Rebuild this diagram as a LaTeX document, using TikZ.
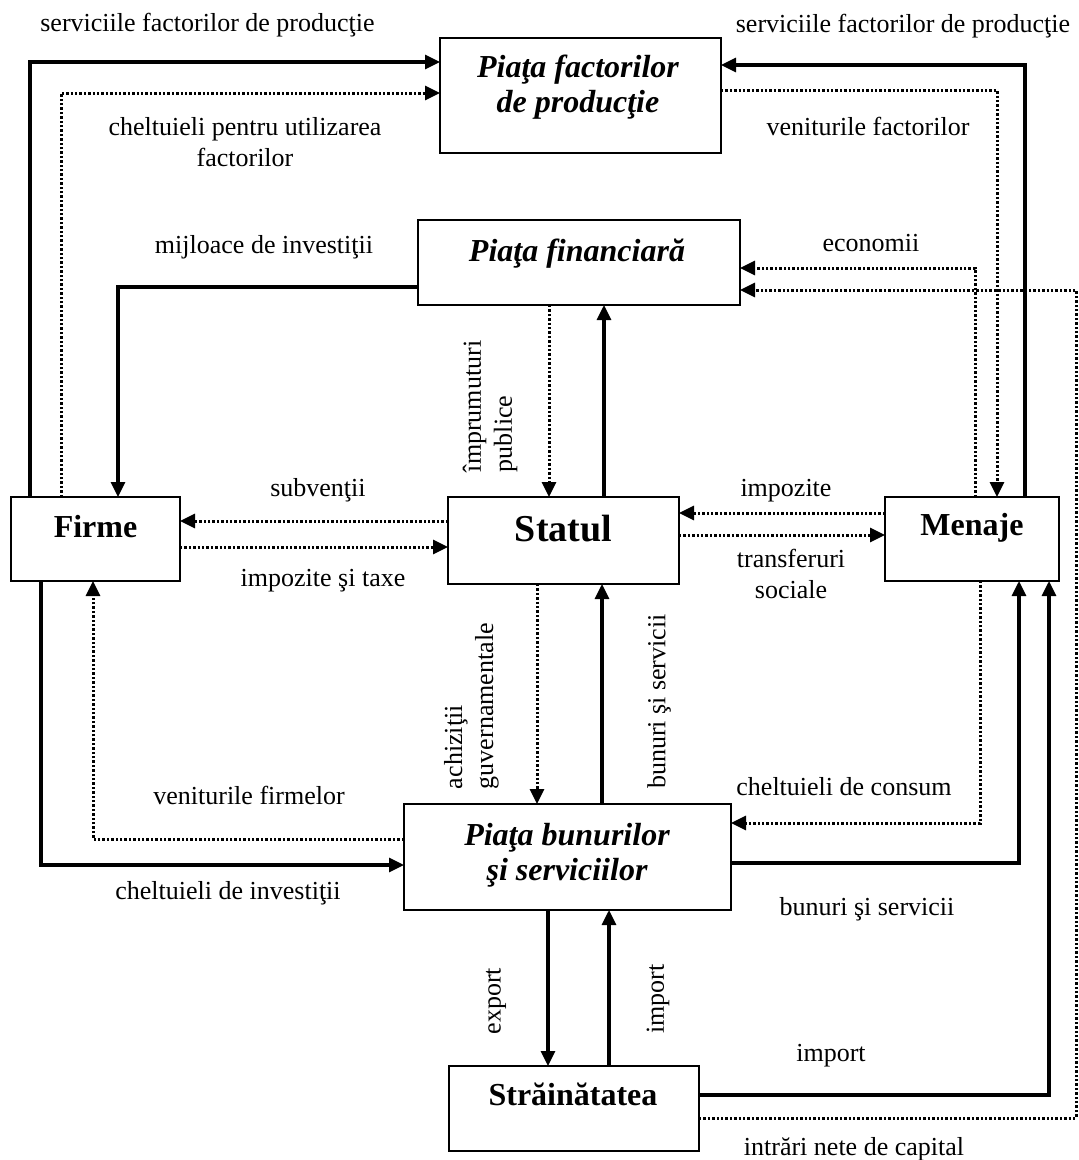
\documentclass[tikz,border=0pt]{standalone}
\usepackage{fontspec}
\setmainfont{Liberation Serif}
\usetikzlibrary{arrows.meta}
\begin{document}
\begin{tikzpicture}[x=1pt,y=-1pt,
  box/.style={draw, line width=2.4pt, rectangle, inner sep=0pt, outer sep=0pt, anchor=north west},
  boxtxt/.style={font=\fontsize{32}{35}\selectfont\bfseries, inner sep=0pt, align=center},
  boxit/.style={font=\fontsize{32}{35}\selectfont\bfseries\itshape, inner sep=0pt, align=center},
  lbl/.style={font=\fontsize{26}{31}\selectfont, inner sep=0pt, align=center},
  flow/.style={line width=3.2pt, -{Triangle[length=15pt,width=14pt]}},
  dflow/.style={line width=3pt, dash pattern=on 2.4pt off 2pt, -{Triangle[length=15pt,width=14pt]}},
  ]
\useasboundingbox (0,0) rectangle (1079,1160);

% markets and sectors
\node[box, minimum width=281pt, minimum height=115pt] (fact)  at (440,38)  {};
\node[box, minimum width=322pt, minimum height=85pt]  (fin)   at (418,220) {};
\node[box, minimum width=169pt, minimum height=84pt]  (firme) at (11,497)  {};
\node[box, minimum width=231pt, minimum height=87pt]  (stat)  at (448,497) {};
\node[box, minimum width=174pt, minimum height=84pt]  (men)   at (885,497) {};
\node[box, minimum width=327pt, minimum height=106pt] (bun)   at (404,804) {};
\node[box, minimum width=250pt, minimum height=85pt]  (str)   at (449,1066) {};

\node[boxit] (fact-t) at (578,87) {Piaţa factorilor\\de producţie};
\node[boxit, anchor=base] (fin-t) at (577,261.7) {Piaţa financiară};
\node[boxtxt, anchor=base] (firme-t) at (95.5,537) {Firme};
\node[boxtxt, anchor=base, font=\fontsize{38}{42}\selectfont\bfseries] (stat-t) at (563.5,541.7) {Statul};
\node[boxtxt, anchor=base] (men-t) at (972,535) {Menaje};
\node[boxit] (bun-t) at (567,855) {Piaţa bunurilor\\şi serviciilor};
\node[boxtxt, anchor=base] (str-t) at (573,1105.7) {Străinătatea};

% flow labels
\node[lbl, anchor=base] (l-sfp1) at (207.5,31) {serviciile factorilor de producţie};
\node[lbl, anchor=base] (l-sfp2) at (903,32) {serviciile factorilor de producţie};
\node[lbl] (l-chf) at (245,141.7) {cheltuieli pentru utilizarea\\factorilor};
\node[lbl, anchor=base] (l-vf) at (868,135) {veniturile factorilor};
\node[lbl, anchor=base] (l-mi) at (264,253) {mijloace de investiţii};
\node[lbl, anchor=base] (l-ec) at (871,251.7) {economii};
\node[lbl, rotate=90, align=left] (l-ip) at (490,406.5) {împrumuturi\\publice};
\node[lbl, anchor=base] (l-sub) at (318,496.7) {subvenţii};
\node[lbl, anchor=base] (l-ist) at (323,586.7) {impozite şi taxe};
\node[lbl, anchor=base] (l-imp) at (786,496.7) {impozite};
\node[lbl] (l-ts) at (791,574) {transferuri\\sociale};
\node[lbl, rotate=90, align=left] (l-ag) at (471.5,706) {achiziţii\\guvernamentale};
\node[lbl, rotate=90] (l-bs1) at (659,701.5) {bunuri şi servicii};
\node[lbl, anchor=base] (l-vfi) at (249,804) {veniturile firmelor};
\node[lbl, anchor=base] (l-ci) at (228,899.3) {cheltuieli de investiţii};
\node[lbl, anchor=base] (l-cc) at (844,795) {cheltuieli de consum};
\node[lbl, anchor=base] (l-bs2) at (867,915) {bunuri şi servicii};
\node[lbl, rotate=90] (l-exp) at (496,1001) {export};
\node[lbl, rotate=90] (l-imp1) at (658,999) {import};
\node[lbl, anchor=base] (l-imp2) at (831,1061.7) {import};
\node[lbl, anchor=base] (l-int) at (854,1155) {intrări nete de capital};

% factor market
\draw[flow]  ([xshift=19pt]firme.north west) |- ([yshift=-24pt]fact.north west);
\draw[dflow] ([xshift=50pt]firme.north west) |- ([yshift=-55pt]fact.north west);
\draw[flow]  ([xshift=140pt]men.north west) |- ([yshift=-27pt]fact.north east);
\draw[dflow] ([yshift=-52pt]fact.north east) -| ([xshift=112pt]men.north west);

% financial market
\draw[flow]  ([yshift=18pt]fin.south west) -| ([xshift=107pt]firme.north west);
\draw[dflow] ([xshift=90pt]men.north west) |- ([yshift=-48pt]fin.north east);
\coordinate (capcorner) at (1076,290);
\draw[dflow] ([yshift=-52pt]str.north east) -| (capcorner) -- ([yshift=15pt]fin.south east);
\draw[dflow] ([xshift=131pt]fin.south west) -- ([xshift=101pt]stat.north west);
\draw[flow]  ([xshift=156pt]stat.north west) -- ([xshift=186pt]fin.south west);

% government
\draw[dflow] ([yshift=-24pt]stat.north west) -- ([yshift=-24pt]firme.north east);
\draw[dflow] ([yshift=-50pt]firme.north east) -- ([yshift=-50pt]stat.north west);
\draw[dflow] ([yshift=-16pt]men.north west) -- ([yshift=-16pt]stat.north east);
\draw[dflow] ([yshift=-38pt]stat.north east) -- ([yshift=-38pt]men.north west);
\draw[dflow] ([xshift=89pt]stat.south west) -- ([xshift=133pt]bun.north west);
\draw[flow]  ([xshift=198pt]bun.north west) -- ([xshift=154pt]stat.south west);

% goods market
\draw[flow]  ([xshift=30pt]firme.south west) |- ([yshift=-61pt]bun.north west);
\draw[dflow] ([yshift=-35pt]bun.north west) -| ([xshift=82pt]firme.south west);
\draw[dflow] ([xshift=95pt]men.south west) |- ([yshift=-19pt]bun.north east);
\draw[flow]  ([yshift=-59pt]bun.north east) -| ([xshift=134pt]men.south west);

% rest of the world
\draw[flow]  ([yshift=-29pt]str.north east) -| ([xshift=164pt]men.south west);
\draw[flow]  ([xshift=144pt]bun.south west) -- ([xshift=99pt]str.north west);
\draw[flow]  ([xshift=160pt]str.north west) -- ([xshift=205pt]bun.south west);
\end{tikzpicture}
\end{document}
